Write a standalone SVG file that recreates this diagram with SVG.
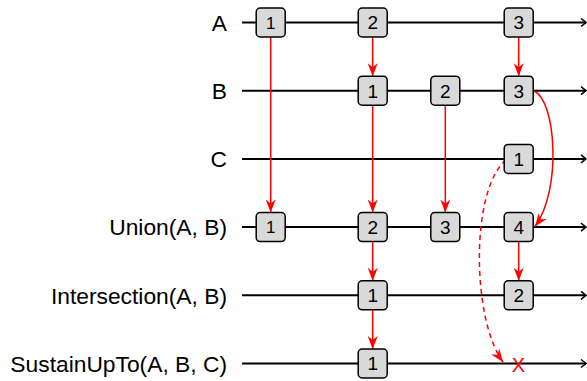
<svg xmlns="http://www.w3.org/2000/svg" width="587" height="381" viewBox="0 0 587 381">
<defs>
<style>
.lbl{font-family:"Liberation Sans",Arial,sans-serif;font-size:22.8px;fill:#000;text-anchor:end}
.num{font-family:"Liberation Sans",Arial,sans-serif;font-size:19px;fill:#000;text-anchor:middle}
.num.s{font-size:17px}
.box{fill:#d9d9d9;stroke:#000;stroke-width:1.5}
.tl{stroke:#000;stroke-width:2;fill:none;marker-end:url(#open)}
.r{stroke:#ff0000;stroke-width:1.5;fill:none;marker-end:url(#red)}
.d{stroke-dasharray:5 4}
</style>
<marker id="open" markerUnits="userSpaceOnUse" markerWidth="12" markerHeight="12" refX="9" refY="6" orient="auto" viewBox="0 0 12 12">
<path d="M4,2 L9,6 L4,10" fill="none" stroke="#000" stroke-width="1.5"/>
</marker>
<marker id="red" markerUnits="userSpaceOnUse" markerWidth="16" markerHeight="12" refX="14" refY="6" orient="auto" viewBox="0 0 16 12">
<path d="M14,6 L1,1 L5,6 L1,11 Z" fill="#ff0000"/>
</marker>
</defs>
<g id="timelines">
<text class="lbl" x="227" y="30.5">A</text>
<line class="tl" x1="242" y1="22.5" x2="586" y2="22.5"/>
<text class="lbl" x="227" y="99">B</text>
<line class="tl" x1="242" y1="90.7" x2="586" y2="90.7"/>
<text class="lbl" x="227" y="167">C</text>
<line class="tl" x1="242" y1="158.9" x2="586" y2="158.9"/>
<text class="lbl" x="227" y="235.3">Union(A, B)</text>
<line class="tl" x1="242" y1="227.1" x2="586" y2="227.1"/>
<text class="lbl" x="227" y="303.5">Intersection(A, B)</text>
<line class="tl" x1="242" y1="295.3" x2="586" y2="295.3"/>
<text class="lbl" x="227" y="371.5">SustainUpTo(A, B, C)</text>
<line class="tl" x1="242" y1="363.5" x2="586" y2="363.5"/>
</g>
<g id="connectors">
<line class="r" x1="270.7" y1="37" x2="270.7" y2="212.6"/>
<line class="r" x1="372.7" y1="37" x2="372.7" y2="76.2"/>
<line class="r" x1="518.7" y1="37" x2="518.7" y2="76.2"/>
<line class="r" x1="372.7" y1="105.2" x2="372.7" y2="212.6"/>
<line class="r" x1="445.3" y1="105.2" x2="445.3" y2="212.6"/>
<path class="r" d="M534,91 C556,100 562,190 535,226.5"/>
<line class="r" x1="372.7" y1="241.6" x2="372.7" y2="280.8"/>
<line class="r" x1="518.7" y1="241.6" x2="518.7" y2="280.8"/>
<line class="r" x1="372.7" y1="309.8" x2="372.7" y2="349"/>
<path class="r d" d="M506,160 C470,190 472,320 503,362"/>
</g>
<g id="A1"><rect class="box" x="256.2" y="8" width="29" height="29" rx="4"/><text class="num s" x="270.7" y="28.8">1</text></g>
<g id="A2"><rect class="box" x="358.2" y="8" width="29" height="29" rx="4"/><text class="num" x="372.7" y="29.3">2</text></g>
<g id="A3"><rect class="box" x="504.2" y="8" width="29" height="29" rx="4"/><text class="num" x="518.7" y="29.3">3</text></g>
<g id="B1"><rect class="box" x="358.2" y="76.2" width="29" height="29" rx="4"/><text class="num" x="372.7" y="97.5">1</text></g>
<g id="B2"><rect class="box" x="430.8" y="76.2" width="29" height="29" rx="4"/><text class="num" x="445.3" y="97.5">2</text></g>
<g id="B3"><rect class="box" x="504.2" y="76.2" width="29" height="29" rx="4"/><text class="num" x="518.7" y="97.5">3</text></g>
<g id="C1"><rect class="box" x="504.2" y="144.4" width="29" height="29" rx="4"/><text class="num" x="518.7" y="165.7">1</text></g>
<g id="U1"><rect class="box" x="256.2" y="212.6" width="29" height="29" rx="4"/><text class="num s" x="270.7" y="233.4">1</text></g>
<g id="U2"><rect class="box" x="358.2" y="212.6" width="29" height="29" rx="4"/><text class="num" x="372.7" y="233.9">2</text></g>
<g id="U3"><rect class="box" x="430.8" y="212.6" width="29" height="29" rx="4"/><text class="num" x="445.3" y="233.9">3</text></g>
<g id="U4"><rect class="box" x="504.2" y="212.6" width="29" height="29" rx="4"/><text class="num" x="518.7" y="233.9">4</text></g>
<g id="I1"><rect class="box" x="358.2" y="280.8" width="29" height="29" rx="4"/><text class="num" x="372.7" y="302.1">1</text></g>
<g id="I2"><rect class="box" x="504.2" y="280.8" width="29" height="29" rx="4"/><text class="num" x="518.7" y="302.1">2</text></g>
<g id="S1"><rect class="box" x="358.2" y="349" width="29" height="29" rx="4"/><text class="num" x="372.7" y="370.3">1</text></g>
<g id="SX"><text x="518.5" y="371.5" style="font-family:'Liberation Sans',Arial,sans-serif;font-size:20px;fill:#ff0000;text-anchor:middle">X</text></g>
</svg>
